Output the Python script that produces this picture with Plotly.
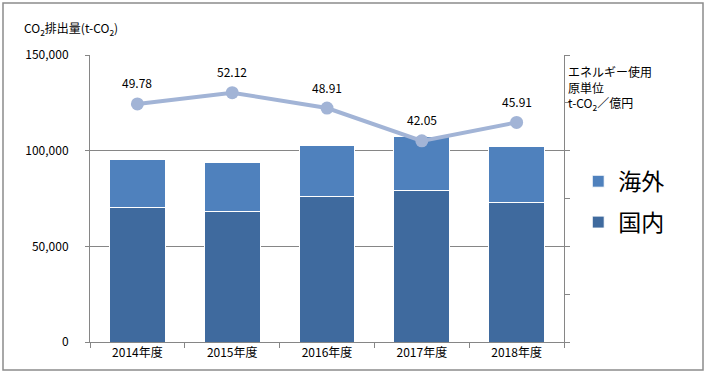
import plotly.graph_objects as go

years = ["2014年度", "2015年度", "2016年度", "2017年度", "2018年度"]
domestic = [70500, 68000, 75800, 79000, 72700]
overseas = [24700, 25600, 26700, 28200, 29300]
intensity = [49.78, 52.12, 48.91, 42.05, 45.91]
left_ticks = [0, 50000, 100000, 150000]
left_tick_labels = ["0", "50,000", "100,000", "150,000"]

FONT = "Noto Sans CJK JP"
W, H = 706, 377
L, R, T, B = 90, 142, 55, 35

fig = go.Figure()
fig.add_trace(go.Bar(x=years, y=domestic, name="国内", legendrank=2, legendgroup="dom",
                     marker=dict(color="#3F6A9E", line=dict(color="white", width=1)),
                     width=0.59))
fig.add_trace(go.Bar(x=years, y=overseas, name="海外", legendrank=1, legendgroup="ovs",
                     marker=dict(color="#4F81BD", line=dict(color="white", width=1)),
                     width=0.59))
fig.add_trace(go.Scatter(x=years, y=intensity, yaxis="y2", mode="lines+markers",
                         line=dict(color="#A2B4D6", width=4),
                         marker=dict(color="#A2B4D6", size=13),
                         showlegend=False, cliponaxis=False))

annots = [dict(x=yr, y=v, xref="x", yref="y2", text=f"{v:.2f}", showarrow=False,
               yshift=21, font=dict(size=12, family=FONT, color="#000"))
          for yr, v in zip(years, intensity)]

fig.update_layout(
    width=W, height=H,
    margin=dict(l=L, r=R, t=T, b=B),
    barmode="stack", bargap=0.41,
    plot_bgcolor="white", paper_bgcolor="white",
    font=dict(family=FONT, size=12, color="#000"),
    xaxis=dict(showline=True, linecolor="#868686", linewidth=1,
               ticks="outside", tickson="boundaries", ticklen=5, tickcolor="#868686",
               tickfont=dict(size=12), showgrid=False),
    yaxis=dict(range=[0, 150000], tickvals=left_ticks, ticktext=left_tick_labels,
               showline=True, linecolor="#868686", linewidth=1,
               ticks="outside", ticklen=4, tickcolor="#868686",
               ticklabelstandoff=14,
               showgrid=True, gridcolor="#868686", gridwidth=1, zeroline=False),
    yaxis2=dict(range=[0, 60], dtick=10, overlaying="y", side="right",
                showline=True, linecolor="#868686", linewidth=1,
                ticks="outside", ticklen=5, tickcolor="#868686",
                showticklabels=False, showgrid=False, zeroline=False),
    legend=dict(x=1.03, y=0.635, xanchor="left", yanchor="top",
                traceorder="grouped", tracegroupgap=8,
                font=dict(size=23, family=FONT), bgcolor="rgba(0,0,0,0)"),
    shapes=[dict(type="rect", xref="paper", yref="paper",
                 x0=(3 - L) / (W - L - R), x1=(703 - L) / (W - L - R),
                 y0=(H - B - 370) / (H - T - B), y1=(H - B - 3) / (H - T - B),
                 line=dict(color="#8C8C8C", width=1.5), layer="below")],
    annotations=annots + [
        dict(text="CO<sub>2</sub>排出量(t-CO<sub>2</sub>)", xref="paper", yref="paper",
             x=(22 - L) / (W - L - R), y=(H - B - 28) / (H - T - B),
             xanchor="left", yanchor="middle", showarrow=False, font=dict(size=12)),
        dict(text="エネルギー使用<br>原単位<br>t-CO<sub>2</sub>／億円", xref="paper", yref="paper",
             x=(566 - L) / (W - L - R), y=(H - B - 61) / (H - T - B),
             xanchor="left", yanchor="top", align="left", showarrow=False,
             font=dict(size=12)),
    ],
)

fig.write_html("out.html", config={"displayModeBar": False},
               post_script="document.body.style.margin='0';")
